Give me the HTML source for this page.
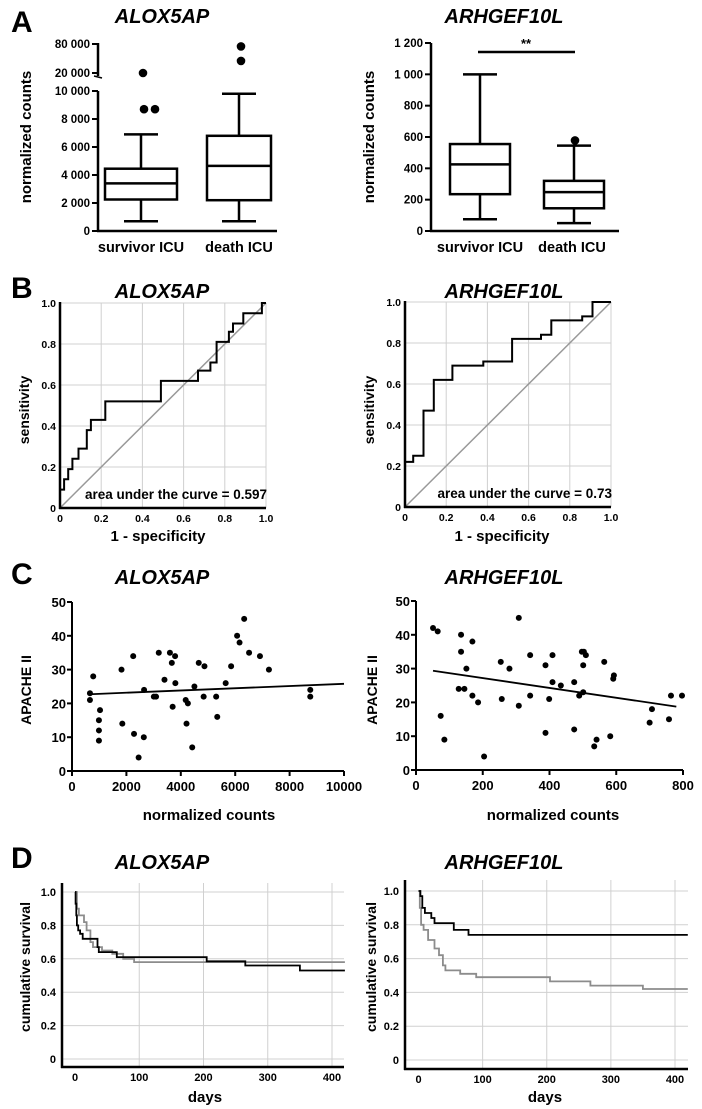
<!DOCTYPE html>
<html><head><meta charset="utf-8">
<style>
html,body{margin:0;padding:0;background:#fff;}
svg{display:block;font-family:"Liberation Sans",sans-serif;}
.b{font-weight:bold;}
.n{font-family:"Liberation Sans Narrow","Liberation Sans",sans-serif;font-weight:bold;}
.t{font-weight:bold;font-style:italic;font-size:20px;}
.L{font-weight:bold;font-size:30px;}
</style></head>
<body>
<svg id="fig" width="702" height="1109" viewBox="0 0 702 1109" xmlns="http://www.w3.org/2000/svg">
<text class="L" x="11" y="32">A</text>
<text class="L" x="11" y="298">B</text>
<text class="L" x="11" y="584">C</text>
<text class="L" x="11" y="868">D</text>
<text class="t" x="162" y="23" text-anchor="middle">ALOX5AP</text>
<text class="t" x="504" y="23" text-anchor="middle">ARHGEF10L</text>
<text class="t" x="162" y="298" text-anchor="middle">ALOX5AP</text>
<text class="t" x="504" y="298" text-anchor="middle">ARHGEF10L</text>
<text class="t" x="162" y="584" text-anchor="middle">ALOX5AP</text>
<text class="t" x="504" y="584" text-anchor="middle">ARHGEF10L</text>
<text class="t" x="162" y="869" text-anchor="middle">ALOX5AP</text>
<text class="t" x="504" y="869" text-anchor="middle">ARHGEF10L</text>
<g id="layer"></g>
</svg>
<script>
// ---------- Panel A data ----------
const aCats = ["survivor ICU", "death ICU"];
const aLeftBox = [[700, 2250, 3400, 4450, 6900], [700, 2200, 4650, 6800, 9800]];
const aLeftOutliersLow = [[8700, 8700], []];
const aLeftOutliersHigh = [[20000], [45000, 75000]];
const aLeftTicks = [0, 2000, 4000, 6000, 8000, 10000];
const aLeftTickLabels = ["0", "2 000", "4 000", "6 000", "8 000", "10 000"];
const aLeftHighTicks = [20000, 80000];
const aLeftHighTickLabels = ["20 000", "80 000"];
const aRightBox = [[75, 235, 425, 555, 1000], [50, 145, 248, 320, 545]];
const aRightOutliers = [[], [578]];
const aRightTicks = [0, 200, 400, 600, 800, 1000, 1200];
const aRightTickLabels = ["0", "200", "400", "600", "800", "1 000", "1 200"];
// ---------- Panel B data ----------
const bLeftFpr = [0,0,0.02,0.02,0.04,0.04,0.06,0.06,0.09,0.09,0.13,0.13,0.15,0.15,0.22,0.22,0.49,0.49,0.67,0.67,0.73,0.73,0.76,0.76,0.82,0.82,0.84,0.84,0.89,0.89,0.98,0.98,1];
const bLeftTpr = [0,0.09,0.09,0.14,0.14,0.19,0.19,0.24,0.24,0.29,0.29,0.38,0.38,0.43,0.43,0.52,0.52,0.62,0.62,0.67,0.67,0.71,0.71,0.81,0.81,0.86,0.86,0.90,0.90,0.95,0.95,1,1];
const bRightFpr = [0,0,0.04,0.04,0.09,0.09,0.14,0.14,0.23,0.23,0.38,0.38,0.52,0.52,0.66,0.66,0.71,0.71,0.86,0.86,0.91,0.91,1];
const bRightTpr = [0,0.22,0.22,0.25,0.25,0.47,0.47,0.62,0.62,0.69,0.69,0.71,0.71,0.82,0.82,0.84,0.84,0.91,0.91,0.93,0.93,1,1];
const bTicks = [0, 0.2, 0.4, 0.6, 0.8, 1.0];
const bTickLabels = ["0", "0.2", "0.4", "0.6", "0.8", "1.0"];
const bAuc = ["area under the curve = 0.597", "area under the curve = 0.73"];
// ---------- Panel C data ----------
const cLeftX = [660,660,780,1030,990,990,990,1820,1850,2250,2280,2450,2640,2650,3010,3090,3190,3400,3600,3670,3790,3700,3800,4180,4210,4260,4420,4500,4660,4840,4870,5300,5340,5650,5850,6070,6160,6330,6510,6910,7240,8760,8760];
const cLeftY = [23,21,28,18,15,12,9,30,14,34,11,4,10,24,22,22,35,27,35,32,34,19,26,21,14,20,7,25,32,22,31,22,16,26,31,40,38,45,35,34,30,24,22];
const cLeftFit = [22.5, 0.00033];
const cLeftFitRange = [660, 10000];
const cLeftXTicks = [0, 2000, 4000, 6000, 8000, 10000];
const cRightX = [51,65,74,85,128,135,135,145,151,169,169,186,204,254,257,280,308,308,342,342,388,388,399,409,409,434,474,474,489,497,503,501,501,509,534,541,564,582,591,593,700,707,758,764,797];
const cRightY = [42,41,16,9,24,40,35,24,30,38,22,20,4,32,21,30,45,19,34,22,31,11,21,34,26,25,26,12,22,35,35,31,23,34,7,9,32,10,27,28,14,18,15,22,22];
const cRightFit = [30.1, -0.01454];
const cRightFitRange = [51, 780];
const cRightXTicks = [0, 200, 400, 600, 800];
const cYTicks = [0, 10, 20, 30, 40, 50];
// ---------- Panel D data ----------
const dLeftBlackT = [0,1,2,3,5,8,12,35,37,65,205,265,350,420];
const dLeftBlackS = [1,0.93,0.86,0.80,0.77,0.75,0.72,0.67,0.64,0.61,0.585,0.56,0.53,0.53];
const dLeftGrayT = [0,3,6,14,18,24,28,42,58,75,92,420];
const dLeftGrayS = [1,0.90,0.86,0.82,0.77,0.70,0.67,0.65,0.63,0.60,0.58,0.58];
const dRightBlackT = [0,3,6,10,20,25,55,78,420];
const dRightBlackS = [1,0.97,0.90,0.87,0.84,0.81,0.77,0.74,0.74];
const dRightGrayT = [0,2,4,8,15,25,32,38,42,65,90,205,268,350,420];
const dRightGrayS = [1,0.90,0.80,0.77,0.71,0.66,0.62,0.56,0.53,0.51,0.49,0.465,0.44,0.42,0.42];
const dXTicks = [0, 100, 200, 300, 400];
const dYTicks = [0, 0.2, 0.4, 0.6, 0.8, 1.0];
const dYTickLabels = ["0", "0.2", "0.4", "0.6", "0.8", "1.0"];

const NS = "http://www.w3.org/2000/svg";
const layer = document.getElementById("layer");
function mk(tag, attrs, name, parent) {
  const el = document.createElementNS(NS, tag);
  for (const k in attrs) el.setAttribute(k, attrs[k]);
  
  
  (parent || layer).appendChild(el);
  return el;
}
function txt(s, x, y, cls, size, anchor, name, rot) {
  const el = mk("text", {x: x, y: y, "class": cls, "font-size": size, "text-anchor": anchor || "middle"}, name);
  if (rot) el.setAttribute("transform", "rotate(-90 " + x + " " + y + ")");
  el.textContent = s;
  return el;
}
function line(x1, y1, x2, y2, stroke, w, name) {
  return mk("line", {x1: x1, y1: y1, x2: x2, y2: y2, stroke: stroke, "stroke-width": w}, name);
}
function lin(d0, d1, r0, r1) { return v => r0 + (v - d0) / (d1 - d0) * (r1 - r0); }

// ---------- Panel A ----------
function boxplot(cx, hw, q, ys, name) {
  const [lo, q1, med, q3, hi] = q;
  mk("rect", {x: cx - hw, y: ys(q3), width: 2 * hw, height: ys(q1) - ys(q3), fill: "none", stroke: "#000", "stroke-width": 2.5}, name + "-box");
  line(cx - hw, ys(med), cx + hw, ys(med), "#000", 2.5, name + "-median");
  line(cx, ys(q3), cx, ys(hi), "#000", 2.5, name + "-upper-whisker");
  line(cx, ys(q1), cx, ys(lo), "#000", 2.5, name + "-lower-whisker");
  line(cx - 17, ys(hi), cx + 17, ys(hi), "#000", 2.5, name + "-upper-cap");
  line(cx - 17, ys(lo), cx + 17, ys(lo), "#000", 2.5, name + "-lower-cap");
}
(function () {
  const ys = lin(0, 10000, 231, 91);
  const yh = lin(20000, 80000, 73, 44);
  const ax = 98;
  line(ax, 91, ax, 232, "#000", 2.5, "a-left-y-axis");
  line(ax, 43, ax, 76, "#000", 2.5, "a-left-y-axis-upper");
  line(ax - 4, 76, ax + 4, 78, "#000", 1.5, "a-left-axis-break");
  line(ax - 1, 231, 277, 231, "#000", 2.5, "a-left-x-axis");
  aLeftTicks.forEach((v, i) => {
    line(ax - 6, ys(v), ax, ys(v), "#000", 2, "a-left-y-tick");
    txt(aLeftTickLabels[i], ax - 8, ys(v) + 4, "b", 11.5, "end", "a-left-y-tick-label");
  });
  aLeftHighTicks.forEach((v, i) => {
    line(ax - 6, yh(v), ax, yh(v), "#000", 2, "a-left-y-tick-upper");
    txt(aLeftHighTickLabels[i], ax - 8, yh(v) + 4, "b", 11.5, "end", "a-left-y-tick-label-upper");
  });
  const cxs = [141, 239];
  aCats.forEach((c, i) => {
    boxplot(cxs[i], i === 0 ? 36 : 32, aLeftBox[i], ys, "a-left-" + (i ? "death" : "survivor"));
    txt(c, cxs[i], 252, "b", 14.5, "middle", "a-left-category-label");
    aLeftOutliersLow[i].forEach((v, j) => mk("circle", {cx: cxs[i] + 3 + j * 11, cy: ys(v), r: 4.3, fill: "#000"}, "a-left-outlier"));
    aLeftOutliersHigh[i].forEach(v => mk("circle", {cx: cxs[i] + 2, cy: yh(v), r: 4.3, fill: "#000"}, "a-left-outlier-high"));
  });
  txt("normalized counts", 31, 137, "b", 15, "middle", "a-left-y-axis-title", true);
})();
(function () {
  const ys = lin(0, 1200, 231, 43);
  const ax = 431;
  line(ax, 43, ax, 232, "#000", 2.5, "a-right-y-axis");
  line(ax - 1, 231, 619, 231, "#000", 2.5, "a-right-x-axis");
  aRightTicks.forEach((v, i) => {
    line(ax - 6, ys(v), ax, ys(v), "#000", 2, "a-right-y-tick");
    txt(aRightTickLabels[i], ax - 8, ys(v) + 4, "b", 11.5, "end", "a-right-y-tick-label");
  });
  const cxs = [480, 574];
  aCats.forEach((c, i) => {
    boxplot(cxs[i], 30, aRightBox[i], ys, "a-right-" + (i ? "death" : "survivor"));
    txt(c, cxs[i] + (i ? -2 : 0), 252, "b", 14.5, "middle", "a-right-category-label");
    aRightOutliers[i].forEach(v => mk("circle", {cx: cxs[i] + 1, cy: ys(v), r: 4.3, fill: "#000"}, "a-right-outlier"));
  });
  line(478, 52, 575, 52, "#000", 2.5, "a-right-significance-bar");
  txt("**", 526, 48, "b", 13, "middle", "a-right-significance-stars");
  txt("normalized counts", 374, 137, "b", 15, "middle", "a-right-y-axis-title", true);
})();

// ---------- Panel B ----------
function roc(ax, xe, y1, y0, fpr, tpr, auc, side) {
  const xs = lin(0, 1, ax, xe), ys = lin(0, 1, y0, y1);
  bTicks.forEach((v, i) => {
    if (v > 0) line(ax, ys(v), xe, ys(v), "#d0d0d0", 1, "b-" + side + "-h-grid");
    if (v > 0) line(xs(v), y1, xs(v), y0, "#d0d0d0", 1, "b-" + side + "-v-grid");
    txt(bTickLabels[i], ax - 4, ys(v) + 4, "n", 10.5, "end", "b-" + side + "-y-tick-label");
    txt(bTickLabels[i], xs(v), y0 + 14, "n", 10.5, "middle", "b-" + side + "-x-tick-label");
  });
  line(ax, y0, xe, y1, "#999", 1.5, "b-" + side + "-reference-diagonal");
  line(ax, y1 - 1, ax, y0 + 1, "#000", 2.5, "b-" + side + "-y-axis");
  line(ax - 1, y0, xe, y0, "#000", 2.5, "b-" + side + "-x-axis");
  let d = "";
  fpr.forEach((f, i) => { d += (i ? "L" : "M") + xs(f).toFixed(1) + " " + ys(tpr[i]).toFixed(1); });
  mk("path", {d: d, fill: "none", stroke: "#000", "stroke-width": 2}, "b-" + side + "-roc-curve");
  txt(auc, xe + 1, y0 - 9, "n", 13.5, "end", "b-" + side + "-auc-label");
}
roc(60, 266, 303, 508, bLeftFpr, bLeftTpr, bAuc[0], "left");
roc(405, 611, 302, 507, bRightFpr, bRightTpr, bAuc[1], "right");
txt("1 - specificity", 158, 541, "n", 15, "middle", "b-left-x-axis-title");
txt("1 - specificity", 502, 541, "n", 15, "middle", "b-right-x-axis-title");
txt("sensitivity", 29, 410, "n", 14, "middle", "b-left-y-axis-title", true);
txt("sensitivity", 374, 410, "n", 14, "middle", "b-right-y-axis-title", true);

// ---------- Panel C ----------
function scatter(ax, xe, xmax, y1, y0, X, Y, fit, range, xticks, side) {
  const xs = lin(0, xmax, ax, xe), ys = lin(0, 50, y0, y1);
  line(ax, y1, ax, y0 + 1, "#000", 2, "c-" + side + "-y-axis");
  line(ax - 1, y0, xe, y0, "#000", 2, "c-" + side + "-x-axis");
  cYTicks.forEach(v => {
    line(ax - 5, ys(v), ax, ys(v), "#000", 2, "c-" + side + "-y-tick");
    txt(String(v), ax - 6, ys(v) + 5, "n", 13, "end", "c-" + side + "-y-tick-label");
  });
  xticks.forEach(v => {
    line(xs(v), y0, xs(v), y0 + 5, "#000", 2, "c-" + side + "-x-tick");
    txt(String(v), xs(v), y0 + 20, "n", 13, "middle", "c-" + side + "-x-tick-label");
  });
  X.forEach((x, i) => mk("circle", {cx: xs(x), cy: ys(Y[i]), r: 3, fill: "#000"}, "c-" + side + "-point"));
  line(xs(range[0]), ys(fit[0] + fit[1] * range[0]), xs(range[1]), ys(fit[0] + fit[1] * range[1]), "#000", 1.8, "c-" + side + "-regression-line");
}
scatter(72, 344, 10000, 602, 771, cLeftX, cLeftY, cLeftFit, cLeftFitRange, cLeftXTicks, "left");
scatter(416, 683, 800, 601, 770, cRightX, cRightY, cRightFit, cRightFitRange, cRightXTicks, "right");
txt("normalized counts", 209, 820, "n", 15, "middle", "c-left-x-axis-title");
txt("normalized counts", 553, 820, "n", 15, "middle", "c-right-x-axis-title");
txt("APACHE II", 31, 690, "b", 14, "middle", "c-left-y-axis-title", true);
txt("APACHE II", 377, 690, "b", 14, "middle", "c-right-y-axis-title", true);

// ---------- Panel D ----------
function km(ax, x0px, x400px, xe, y1, y0px, yTop, base, series, side) {
  const xs = lin(0, 400, x0px, x400px), ys = lin(0, 1, y0px, y1);
  dXTicks.forEach(v => {
    if (v > 0) line(xs(v), yTop, xs(v), base, "#d0d0d0", 1, "d-" + side + "-v-grid");
    txt(String(v), xs(v), base + 14, "n", 11, "middle", "d-" + side + "-x-tick-label");
  });
  dYTicks.forEach((v, i) => {
    line(ax, ys(v), xe, ys(v), "#d0d0d0", 1, "d-" + side + "-h-grid");
    txt(dYTickLabels[i], ax - 6, ys(v) + 4, "n", 11, "end", "d-" + side + "-y-tick-label");
  });
  line(ax, yTop, ax, base + 1, "#000", 2.5, "d-" + side + "-y-axis");
  line(ax - 1, base, xe, base, "#000", 2.5, "d-" + side + "-x-axis");
  series.forEach(s => {
    let d = "M" + xs(s.t[0]) + " " + ys(s.s[0]);
    for (let i = 1; i < s.t.length; i++) {
      d += "L" + xs(s.t[i]).toFixed(1) + " " + ys(s.s[i - 1]).toFixed(1) + "L" + xs(s.t[i]).toFixed(1) + " " + ys(s.s[i]).toFixed(1);
    }
    mk("path", {d: d, fill: "none", stroke: s.c, "stroke-width": 1.8}, "d-" + side + "-" + s.n + "-survival-curve");
  });
}
km(62, 75, 332, 344, 892, 1059, 883, 1067, [{t: dLeftGrayT, s: dLeftGrayS, c: "#8c8c8c", n: "gray"}, {t: dLeftBlackT, s: dLeftBlackS, c: "#000", n: "black"}], "left");
km(405, 418.5, 675, 688, 891, 1060, 880, 1069, [{t: dRightGrayT, s: dRightGrayS, c: "#8c8c8c", n: "gray"}, {t: dRightBlackT, s: dRightBlackS, c: "#000", n: "black"}], "right");
txt("days", 205, 1102, "n", 15, "middle", "d-left-x-axis-title");
txt("days", 545, 1102, "n", 15, "middle", "d-right-x-axis-title");
txt("cumulative survival", 30, 967, "n", 14, "middle", "d-left-y-axis-title", true);
txt("cumulative survival", 376, 967, "n", 14, "middle", "d-right-y-axis-title", true);
</script>
</body></html>
